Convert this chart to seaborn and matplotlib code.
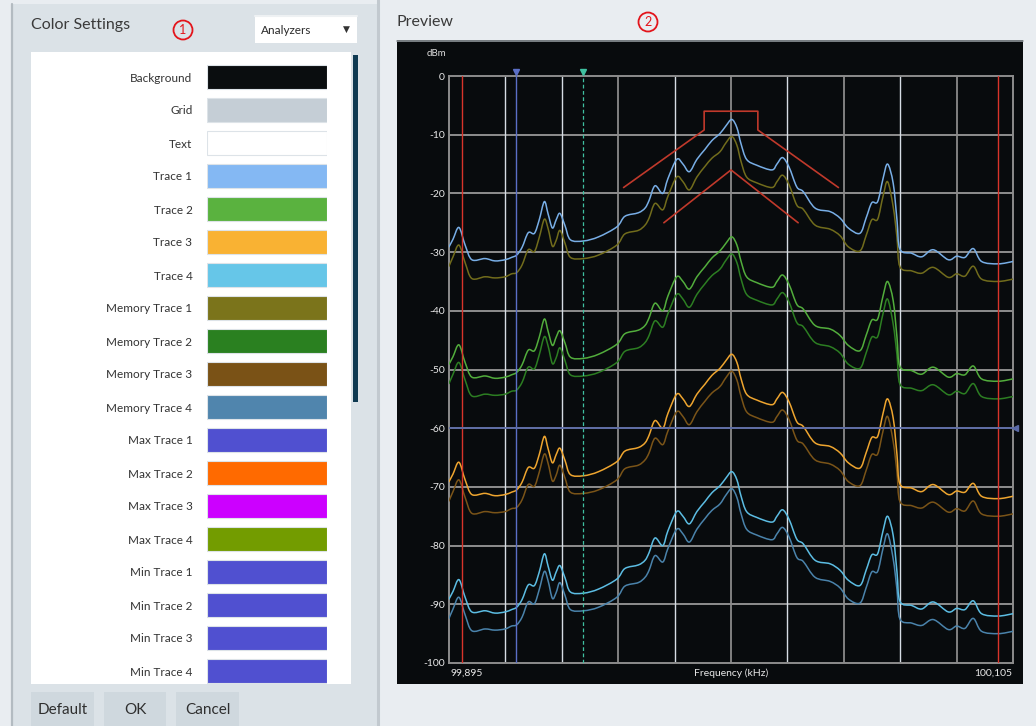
import numpy as np
import pandas as pd
import matplotlib
matplotlib.use("Agg")
import matplotlib.pyplot as plt
import seaborn as sns
from matplotlib.patches import Rectangle, Circle, PathPatch
from matplotlib.path import Path

# ---------------- data ----------------
setting_names = ["Background", "Grid", "Text", "Trace 1", "Trace 2", "Trace 3", "Trace 4",
                 "Memory Trace 1", "Memory Trace 2", "Memory Trace 3", "Memory Trace 4",
                 "Max Trace 1", "Max Trace 2", "Max Trace 3", "Max Trace 4",
                 "Min Trace 1", "Min Trace 2", "Min Trace 3", "Min Trace 4"]
setting_colors = ["#0a0d0f", "#c5ced6", "#ffffff", "#84b8f3", "#5ab23f", "#f9b233", "#66c6e8",
                  "#7b741b", "#2a8020", "#7a5216", "#5085ad",
                  "#5050d0", "#ff6a00", "#cc00ff", "#739c00",
                  "#5050d0", "#5050d0", "#5050d0", "#5050d0"]
swatch_fill = [1] * len(setting_names)

freq_khz = [99895.0, 99896.5, 99898.7, 99901.0, 99903.5, 99908.4, 99912.1, 99915.9, 99918.3, 99920.2,
            99922.2, 99924.5, 99926.8, 99928.6, 99930.5, 99931.9, 99933.5, 99934.9, 99936.3, 99938.2,
            99940.2, 99945.1, 99950.7, 99957.5, 99960.5, 99965.5, 99968.0, 99969.5, 99971.7, 99974.6,
            99976.5, 99979.8, 99982.1, 99984.5, 99987.3, 99990.3, 99992.9, 99995.9, 99998.1, 100000.3,
            100002.2, 100003.7, 100005.8, 100009.6, 100015.2, 100017.1, 100019.2, 100021.6, 100024.5, 100026.9,
            100031.3, 100036.9, 100040.6, 100043.7, 100048.0, 100050.3, 100052.4, 100054.6, 100056.6, 100058.3,
            100060.4, 100061.8, 100062.9, 100067.3, 100071.0, 100075.3, 100080.9, 100084.0, 100087.1, 100090.2,
            100093.3, 100099.5, 100105.0]

trace_1 = [-29.1, -27.8, -25.8, -28.8, -31.3, -31.1, -31.5, -31.3, -30.9, -30.5, -29.2, -26.7, -26.8, -24.5, -21.4,
           -23.5, -25.9, -24.5, -23.4, -25.5, -27.9, -28.1, -27.4, -25.7, -23.9, -23.3, -22.5, -21.2, -18.7, -20.0,
           -17.5, -14.2, -15.0, -16.3, -14.2, -12.5, -11.0, -9.8, -8.5, -7.4, -8.8, -11.5, -14.2, -15.2, -16.0,
           -15.0, -13.9, -15.5, -18.9, -19.7, -22.5, -23.1, -24.2, -25.9, -26.8, -24.2, -21.6, -21.4, -17.5, -15.0,
           -18.3, -24.5, -29.5, -30.2, -30.8, -29.6, -31.3, -30.7, -30.9, -29.4, -31.6, -32.0, -31.6]
trace_2 = [-49.1, -47.8, -45.8, -48.8, -51.3, -51.1, -51.5, -51.3, -50.9, -50.5, -49.2, -46.7, -46.8, -44.5, -41.4,
           -43.5, -45.9, -44.5, -43.4, -45.5, -47.9, -48.1, -47.4, -45.7, -43.9, -43.3, -42.5, -41.2, -38.7, -40.0,
           -37.5, -34.2, -35.0, -36.3, -34.2, -32.5, -31.0, -29.8, -28.5, -27.4, -28.8, -31.5, -34.2, -35.2, -36.0,
           -35.0, -33.9, -35.5, -38.9, -39.7, -42.5, -43.1, -44.2, -45.9, -46.8, -44.2, -41.6, -41.4, -37.5, -35.0,
           -38.3, -44.5, -49.5, -50.2, -50.8, -49.6, -51.3, -50.7, -50.9, -49.4, -51.6, -52.0, -51.6]
trace_3 = [-69.1, -67.8, -65.8, -68.8, -71.3, -71.1, -71.5, -71.3, -70.9, -70.5, -69.2, -66.7, -66.8, -64.5, -61.4,
           -63.5, -65.9, -64.5, -63.4, -65.5, -67.9, -68.1, -67.4, -65.7, -63.9, -63.3, -62.5, -61.2, -58.7, -60.0,
           -57.5, -54.2, -55.0, -56.3, -54.2, -52.5, -51.0, -49.8, -48.5, -47.4, -48.8, -51.5, -54.2, -55.2, -56.0,
           -55.0, -53.9, -55.5, -58.9, -59.7, -62.5, -63.1, -64.2, -65.9, -66.8, -64.2, -61.6, -61.4, -57.5, -55.0,
           -58.3, -64.5, -69.5, -70.2, -70.8, -69.6, -71.3, -70.7, -70.9, -69.4, -71.6, -72.0, -71.6]
trace_4 = [-89.1, -87.8, -85.8, -88.8, -91.3, -91.1, -91.5, -91.3, -90.9, -90.5, -89.2, -86.7, -86.8, -84.5, -81.4,
           -83.5, -85.9, -84.5, -83.4, -85.5, -87.9, -88.1, -87.4, -85.7, -83.9, -83.3, -82.5, -81.2, -78.7, -80.0,
           -77.5, -74.2, -75.0, -76.3, -74.2, -72.5, -71.0, -69.8, -68.5, -67.4, -68.8, -71.5, -74.2, -75.2, -76.0,
           -75.0, -73.9, -75.5, -78.9, -79.7, -82.5, -83.1, -84.2, -85.9, -86.8, -84.2, -81.6, -81.4, -77.5, -75.0,
           -78.3, -84.5, -89.5, -90.2, -90.8, -89.6, -91.3, -90.7, -90.9, -89.4, -91.6, -92.0, -91.6]
memory_1 = [-32.4, -30.8, -28.8, -31.8, -34.5, -34.2, -34.4, -34.2, -33.7, -33.5, -32.2, -29.6, -29.9, -27.5, -24.4,
            -26.0, -29.0, -28.0, -26.3, -28.5, -30.9, -31.1, -30.5, -28.8, -26.9, -26.3, -25.4, -24.2, -21.7, -22.8,
            -20.5, -17.2, -18.0, -19.4, -17.2, -15.4, -14.0, -12.9, -11.4, -10.3, -11.8, -14.5, -17.2, -18.2, -19.0,
            -18.0, -16.9, -18.5, -22.0, -22.7, -25.4, -26.1, -27.2, -29.1, -29.8, -27.2, -24.5, -24.4, -20.5, -18.0,
            -22.3, -27.5, -32.5, -33.2, -33.6, -32.6, -34.3, -33.7, -34.1, -32.4, -34.6, -35.0, -34.6]
memory_2 = [-52.4, -50.8, -48.8, -51.8, -54.5, -54.2, -54.4, -54.2, -53.7, -53.5, -52.2, -49.6, -49.9, -47.5, -44.4,
            -46.0, -49.0, -48.0, -46.3, -48.5, -50.9, -51.1, -50.5, -48.8, -46.9, -46.3, -45.4, -44.2, -41.7, -42.8,
            -40.5, -37.2, -38.0, -39.4, -37.2, -35.4, -34.0, -32.9, -31.4, -30.3, -31.8, -34.5, -37.2, -38.2, -39.0,
            -38.0, -36.9, -38.5, -42.0, -42.7, -45.4, -46.1, -47.2, -49.1, -49.8, -47.2, -44.5, -44.4, -40.5, -38.0,
            -42.3, -47.5, -52.5, -53.2, -53.6, -52.6, -54.3, -53.7, -54.1, -52.4, -54.6, -55.0, -54.6]
memory_3 = [-72.4, -70.8, -68.8, -71.8, -74.5, -74.2, -74.4, -74.2, -73.7, -73.5, -72.2, -69.6, -69.9, -67.5, -64.4,
            -66.0, -69.0, -68.0, -66.3, -68.5, -70.9, -71.1, -70.5, -68.8, -66.9, -66.3, -65.4, -64.2, -61.7, -62.8,
            -60.5, -57.2, -58.0, -59.4, -57.2, -55.4, -54.0, -52.9, -51.4, -50.3, -51.8, -54.5, -57.2, -58.2, -59.0,
            -58.0, -56.9, -58.5, -62.0, -62.7, -65.4, -66.1, -67.2, -69.1, -69.8, -67.2, -64.5, -64.4, -60.5, -58.0,
            -62.3, -67.5, -72.5, -73.2, -73.6, -72.6, -74.3, -73.7, -74.1, -72.4, -74.6, -75.0, -74.6]
memory_4 = [-92.4, -90.8, -88.8, -91.8, -94.5, -94.2, -94.4, -94.2, -93.7, -93.5, -92.2, -89.6, -89.9, -87.5, -84.4,
            -86.0, -89.0, -88.0, -86.3, -88.5, -90.9, -91.1, -90.5, -88.8, -86.9, -86.3, -85.4, -84.2, -81.7, -82.8,
            -80.5, -77.2, -78.0, -79.4, -77.2, -75.4, -74.0, -72.9, -71.4, -70.3, -71.8, -74.5, -77.2, -78.2, -79.0,
            -78.0, -76.9, -78.5, -82.0, -82.7, -85.4, -86.1, -87.2, -89.1, -89.8, -87.2, -84.5, -84.4, -80.5, -78.0,
            -82.3, -87.5, -92.5, -93.2, -93.6, -92.6, -94.3, -93.7, -94.1, -92.4, -94.6, -95.0, -94.6]

trace_names = ["Memory Trace 1", "Memory Trace 2", "Memory Trace 3", "Memory Trace 4",
               "Trace 1", "Trace 2", "Trace 3", "Trace 4"]
trace_values = [memory_1, memory_2, memory_3, memory_4, trace_1, trace_2, trace_3, trace_4]
trace_line_colors = {"Trace 1": "#78aee6", "Trace 2": "#52ad3c", "Trace 3": "#eea52f", "Trace 4": "#5cbde3",
                     "Memory Trace 1": "#716c1c", "Memory Trace 2": "#2c7e22", "Memory Trace 3": "#7a5418",
                     "Memory Trace 4": "#4a83ab"}

y_ticks = [0, -10, -20, -30, -40, -50, -60, -70, -80, -90, -100]
x_start_label, x_stop_label = "99,895", "100,105"
x_min, x_max = 99895, 100105
vgrid_khz = [99916, 99937, 99958, 99979, 100000, 100021, 100042, 100063, 100084]
vgrid_colors = ["#d6dde4", "#d6dde4", "#8a8a8a", "#d6dde4", "#8a8a8a", "#d6dde4", "#8a8a8a", "#d6dde4", "#8a8a8a"]
red_lines_khz = [99900.0, 100099.5]
blue_marker_khz = 99920.0
green_marker_khz = 99945.0
display_line_db = -60
mask_outer_x = [99960, 99990, 99990, 100010, 100010, 100040]
mask_outer_y = [-19.0, -9.2, -6.0, -6.0, -9.2, -19.0]
mask_inner_x = [99975, 100000, 100025]
mask_inner_y = [-25.0, -16.0, -25.0]

# ---------------- figure ----------------
W, H = 1036, 726
sns.set_style("white")
plt.rcParams["font.family"] = ["Lato", "DejaVu Sans"]

fig = plt.figure(figsize=(W / 100, H / 100), dpi=100)
fig.patch.set_facecolor("#e9edf1")


def frect(x, y, w, h):
    return [x / W, 1 - (y + h) / H, w / W, h / H]


bg = fig.add_axes([0, 0, 1, 1])
bg.set_xlim(0, W)
bg.set_ylim(H, 0)
bg.axis("off")

# left panel
bg.add_patch(Rectangle((12, 4), 365, 722, fc="#dbe2e7", ec="none"))
bg.plot([12, 12], [4, 726], color="#b3bbc1", lw=1.6)
bg.plot([378, 378], [0, 726], color="#c2c9cf", lw=2.2)
bg.text(31, 25, "Color Settings", fontsize=11.5, color="#3a3a3a", ha="left", va="center")
bg.add_patch(Circle((183, 30), 9.5, fill=False, ec="#e3141b", lw=1.3))
bg.text(183, 30.5, "1", fontsize=9, color="#e3141b", ha="center", va="center")
# dropdown
bg.add_patch(Rectangle((255, 16), 102, 27, fc="#ffffff", ec="none"))
bg.plot([255, 357], [16, 16], color="#eef1f3", lw=1.5)
bg.text(261, 30, "Analyzers", fontsize=8.5, color="#2a2a2a", ha="left", va="center")
bg.text(346, 29.5, "\u25BC", fontsize=6.5, color="#333333", ha="center", va="center",
        family=["DejaVu Sans"])
# list area
bg.add_patch(Rectangle((31, 52), 320, 632, fc="#ffffff", ec="none"))
bg.add_patch(Rectangle((353, 55), 5, 347, fc="#0f3a52", ec="none"))
# buttons
for bx, bw, label in [(31, 63, "Default"), (104, 62, "OK"), (176, 63, "Cancel")]:
    bg.add_patch(Rectangle((bx, 692), bw, 34, fc="#cfd8de", ec="none"))
    bg.text(bx + bw / 2, 710, label, fontsize=11, color="#2f2f2f", ha="center", va="center")

# right panel
bg.text(397, 22, "Preview", fontsize=11.5, color="#3a3a3a", ha="left", va="center")
bg.add_patch(Circle((648, 22), 9.5, fill=False, ec="#e3141b", lw=1.3))
bg.text(648, 22.5, "2", fontsize=9, color="#e3141b", ha="center", va="center")
bg.add_patch(Rectangle((397, 40), 626, 644, fc="#080b0d", ec="none"))
bg.plot([397, 1023], [40.5, 40.5], color="#8e9499", lw=1.2)
bg.text(436, 53, "dBm", fontsize=7, color="#dcdcdc", ha="center", va="center")

# ---------------- swatch list (bars) ----------------
ax2 = fig.add_axes(frect(207, 60.5, 120, 627))
sns.barplot(x=swatch_fill, y=setting_names, hue=setting_names, palette=setting_colors,
            orient="h", width=0.7, saturation=1, legend=False, ax=ax2,
            edgecolor="#dde3e8", linewidth=0.8)
ax2.set_xlim(0, 1)
ax2.set_ylim(18.5, -0.5)
ax2.patch.set_alpha(0)
for s in ax2.spines.values():
    s.set_visible(False)
ax2.set_xticks([])
ax2.set_xlabel("")
ax2.set_ylabel("")
ax2.tick_params(axis="y", length=0, pad=10.5, labelsize=8.5, labelcolor="#333333")

# ---------------- spectrum preview ----------------
ax = fig.add_axes(frect(449, 76, 564, 587))
ax.set_facecolor("#080b0d")
ax.set_xlim(x_min, x_max)
ax.set_ylim(-100, 0)

for yv in y_ticks[1:-1]:
    ax.axhline(yv, color="#8e8e8e", lw=1.4, zorder=1)
for xv, c in zip(vgrid_khz, vgrid_colors):
    ax.axvline(xv, color=c, lw=1.0 if c != "#8a8a8a" else 1.3, zorder=1)
for s in ax.spines.values():
    s.set_color("#8c8c8c")
    s.set_linewidth(1.4)

rows = []
for name, vals in zip(trace_names, trace_values):
    for f, v in zip(freq_khz, vals):
        rows.append((name, f, v))
df = pd.DataFrame(rows, columns=["trace", "freq", "level"])
n_before = len(ax.lines)
sns.lineplot(data=df, x="freq", y="level", hue="trace", hue_order=trace_names,
             palette=trace_line_colors, estimator=None, sort=False, legend=False,
             lw=1.1, ax=ax, zorder=3)


def smooth_path(xs, ys):
    """Render the polyline through the data points as a smooth Catmull-Rom curve."""
    P = np.column_stack([xs, ys]).astype(float)
    n = len(P)
    verts, codes = [P[0]], [Path.MOVETO]
    for i in range(n - 1):
        p0, p1, p2, p3 = P[max(i - 1, 0)], P[i], P[i + 1], P[min(i + 2, n - 1)]
        verts += [p1 + (p2 - p0) / 6.0, p2 - (p3 - p1) / 6.0, p2]
        codes += [Path.CURVE4] * 3
    return Path(verts, codes)


for line in list(ax.lines)[n_before:]:
    patch = PathPatch(smooth_path(line.get_xdata(), line.get_ydata()), fill=False,
                      ec=line.get_color(), lw=line.get_linewidth(), zorder=3,
                      capstyle="round", joinstyle="round")
    ax.add_patch(patch)
    line.set_visible(False)

# marker / display lines
for xv in red_lines_khz:
    ax.axvline(xv, color="#d9342b", lw=1.0, zorder=4)
ax.axvline(blue_marker_khz, color="#5b6fc6", lw=1.0, zorder=4)
ax.axvline(green_marker_khz, color="#3fc0a0", lw=0.9, ls=(0, (3, 2)), zorder=4)
ax.axhline(display_line_db, color="#5b6aa6", lw=1.3, zorder=4)
ax.plot([blue_marker_khz], [0.6], marker="v", ms=5, color="#5b6fc6", clip_on=False, zorder=5, ls="none")
ax.plot([green_marker_khz], [0.6], marker="v", ms=5, color="#3fc0a0", clip_on=False, zorder=5, ls="none")
ax.plot([x_max + 0.8], [display_line_db], marker="<", ms=5, color="#5b6aa6", clip_on=False, zorder=5, ls="none")

# limit mask
ax.plot(mask_outer_x, mask_outer_y, color="#c0392b", lw=1.2, zorder=4)
ax.plot(mask_inner_x, mask_inner_y, color="#c0392b", lw=1.2, zorder=4)

ax.set_yticks(y_ticks)
ax.set_yticklabels([str(v) for v in y_ticks])
ax.tick_params(axis="y", length=0, pad=3, labelsize=7.5, labelcolor="#e8e8e8")
ax.set_xticks([])
ax.set_xlabel("")
ax.set_ylabel("")
ax.text(0.002, -0.01, x_start_label, transform=ax.transAxes, ha="left", va="top",
        fontsize=7.5, color="#e8e8e8")
ax.text(0.998, -0.01, x_stop_label, transform=ax.transAxes, ha="right", va="top",
        fontsize=7.5, color="#e8e8e8")
ax.text(0.5, -0.01, "Frequency (kHz)", transform=ax.transAxes, ha="center", va="top",
        fontsize=7.5, color="#e8e8e8")

fig.savefig("out.png", dpi=100, facecolor=fig.get_facecolor())
